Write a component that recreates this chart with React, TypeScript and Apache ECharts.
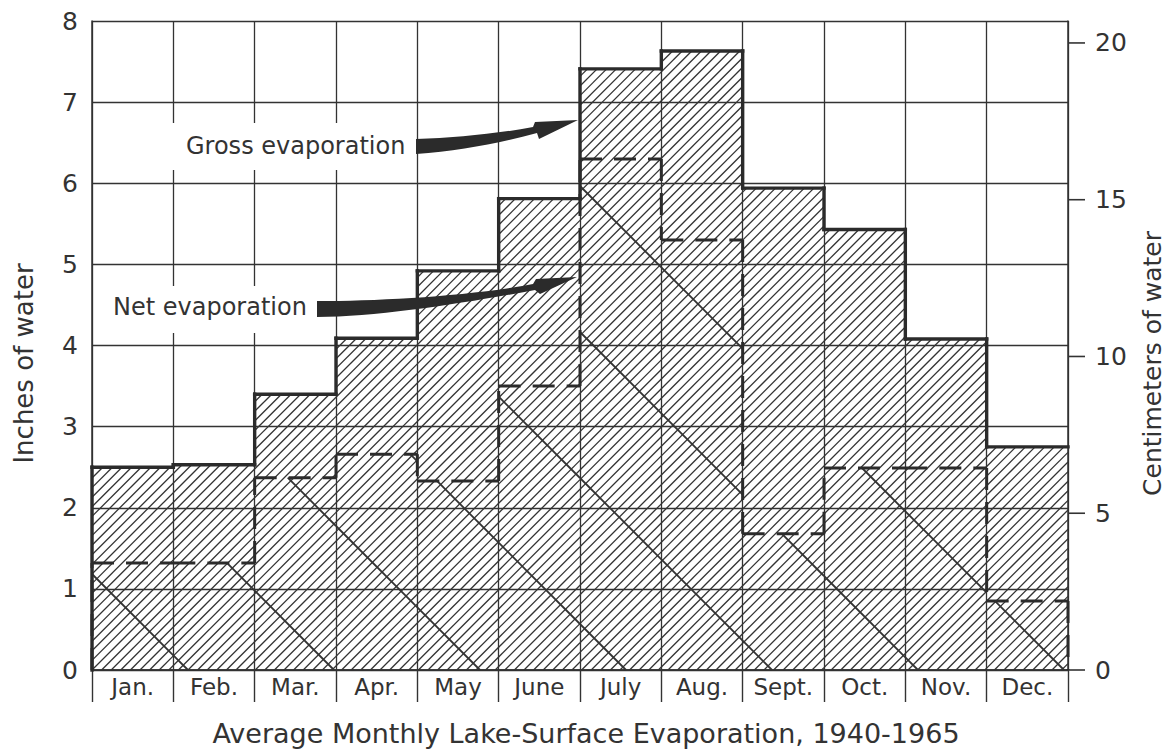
import React, { useEffect, useRef } from 'react';
import * as echarts from 'echarts';

const months = ['Jan.', 'Feb.', 'Mar.', 'Apr.', 'May', 'June', 'July', 'Aug.', 'Sept.', 'Oct.', 'Nov.', 'Dec.'];
const grossInches = [2.5, 2.53, 3.4, 4.09, 4.92, 5.81, 7.41, 7.63, 5.94, 5.43, 4.08, 2.75];
const netInches = [1.32, 1.32, 2.37, 2.66, 2.33, 3.5, 6.3, 5.3, 1.68, 2.49, 2.49, 0.85];
const cmTicks = [0, 5, 10, 15, 20];
const cmMax = 20.7;
const titleText = 'Average Monthly Lake-Surface Evaporation, 1940-1965';
const grossLabel = 'Gross evaporation';
const netLabel = 'Net evaporation';

const INK = '#333';
const FONT = 'DejaVu Sans';

const GROSS_ARROW = 'M416,139 C455,138 495,134 533,127 L535,122 L578,120 L539,139 L537,133 C500,143 460,151 416,154 Z';
const NET_ARROW = 'M317,301 C380,301 470,296 533,284 L536,279 L577,277 L540,294 L535,290 C470,302 380,317 317,317 Z';

let registered = false;
function registerShapes() {
  if (registered) return;
  registered = true;
  echarts.graphic.registerShape('grossArrow', echarts.graphic.extendPath(GROSS_ARROW, {}));
  echarts.graphic.registerShape('netArrow', echarts.graphic.extendPath(NET_ARROW, {}));
}

function renderItem(params: any, api: any) {
  const i = api.value(0);
  const g = api.value(1);
  const n = api.value(2);
  const pg = api.value(3);
  const pn = api.value(4);
  const isLast = api.value(5);
  const base = api.coord([i, 0]);
  const bw = api.size([1, 0])[0];
  const xL = base[0] - bw / 2;
  const xR = base[0] + bw / 2;
  const yB = base[1];
  const yG = api.coord([i, g])[1];
  const yN = api.coord([i, n])[1];
  const yPG = api.coord([i, pg])[1];
  const yPN = api.coord([i, pn])[1];
  const originX = api.coord([0, 0])[0] - bw / 2;
  const children: any[] = [];

  // fine "/" hatch over gross area
  const s = 9.6;
  const k0 = Math.ceil((xL + yG - originX - yB) / s);
  const k1 = Math.floor((xR - originX) / s);
  for (let k = k0; k <= k1; k++) {
    const c = originX + yB + k * s;
    const lo = Math.max(xL, c - yB);
    const hi = Math.min(xR, c - yG);
    if (hi - lo > 0.3) {
      children.push({
        type: 'line',
        shape: { x1: lo, y1: c - lo, x2: hi, y2: c - hi },
        style: { stroke: INK, lineWidth: 1.3 },
        silent: true,
      });
    }
  }

  // coarse "\" hatch over net area
  const S = 146;
  const off = 96;
  const q0 = Math.ceil((xL - originX - off) / S);
  const q1 = Math.floor((xR - yN + yB - originX - off) / S);
  for (let k = q0; k <= q1; k++) {
    const c = originX + off - yB + k * S;
    const lo = Math.max(xL, yN + c);
    const hi = Math.min(xR, yB + c);
    if (hi - lo > 0.3) {
      children.push({
        type: 'line',
        shape: { x1: lo, y1: lo - c, x2: hi, y2: hi - c },
        style: { stroke: INK, lineWidth: 1.8 },
        silent: true,
      });
    }
  }

  // net evaporation dashed outline
  const dash = { stroke: '#2b2b2b', lineWidth: 3, lineDash: [22, 12] };
  children.push({ type: 'line', shape: { x1: xL, y1: yN, x2: xR, y2: yN }, style: dash });
  children.push({ type: 'line', shape: { x1: xL, y1: yPN, x2: xL, y2: yN }, style: dash });
  if (isLast) {
    children.push({ type: 'line', shape: { x1: xR, y1: yN, x2: xR, y2: yB }, style: dash });
  }

  // gross evaporation solid outline
  const solid = { stroke: '#2b2b2b', lineWidth: 3.4, lineCap: 'square' };
  children.push({ type: 'line', shape: { x1: xL, y1: yG, x2: xR, y2: yG }, style: solid });
  children.push({ type: 'line', shape: { x1: xL, y1: yPG, x2: xL, y2: yG }, style: solid });

  return { type: 'group', children };
}

// centimetre scale: tick marks outward from the right edge, with their labels
function renderCmTick(params: any, api: any) {
  const v = api.value(1);
  const rightEdge = params.coordSys.x + params.coordSys.width;
  const y = api.coord([0, v])[1];
  return {
    type: 'group',
    children: [
      {
        type: 'line',
        shape: { x1: rightEdge, y1: y, x2: rightEdge + 17, y2: y },
        style: { stroke: INK, lineWidth: 1.6 },
      },
      {
        type: 'text',
        x: rightEdge + 27,
        y: y,
        style: {
          text: String(v),
          fontSize: 25,
          fontFamily: FONT,
          fill: INK,
          align: 'left',
          verticalAlign: 'middle',
        },
      },
    ],
  };
}

export default function App() {
  const ref = useRef<HTMLDivElement>(null);

  useEffect(() => {
    if (!ref.current) return;
    registerShapes();
    const chart = echarts.init(ref.current, null, { renderer: 'svg' });
    const data = months.map((m, i) => [
      i,
      grossInches[i],
      netInches[i],
      i === 0 ? 0 : grossInches[i - 1],
      i === 0 ? 0 : netInches[i - 1],
      i === months.length - 1 ? 1 : 0,
    ]);
    const gridLine = { color: INK, width: 1.3 };
    chart.setOption({
      animation: false,
      backgroundColor: '#ffffff',
      textStyle: { fontFamily: FONT },
      title: {
        text: titleText,
        left: 'center',
        top: 720,
        padding: [0, 22, 0, 0],
        textStyle: { fontFamily: FONT, fontSize: 27, fontWeight: 'normal', color: INK },
      },
      grid: { left: 92, right: 104, top: 21, bottom: 81, containLabel: false, outerBoundsMode: 'none' },
      xAxis: [
        {
          type: 'category',
          data: months,
          boundaryGap: true,
          axisLine: { show: true, lineStyle: { color: INK, width: 1.5 } },
          axisTick: { show: true, length: 32, interval: 0, lineStyle: { color: INK, width: 1.4 } },
          axisLabel: { interval: 0, margin: 5, fontSize: 23, color: INK, fontFamily: FONT },
          splitLine: { show: true, interval: 0, lineStyle: gridLine },
        },
        {
          type: 'category',
          data: months,
          position: 'bottom',
          offset: 32,
          axisLine: { show: true, lineStyle: { color: INK, width: 1.5 } },
          axisTick: { show: false },
          axisLabel: { show: false },
          splitLine: { show: false },
        },
      ],
      yAxis: [
        {
          type: 'value',
          min: 0,
          max: 8,
          interval: 1,
          name: 'Inches of water',
          nameLocation: 'middle',
          nameRotate: 90,
          nameGap: 55,
          nameMoveOverlap: false,
          nameTextStyle: { fontSize: 26, color: INK, fontFamily: FONT, padding: [0, 36, 0, 0] },
          axisLine: { show: true, lineStyle: { color: INK, width: 1.5 } },
          axisTick: { show: false },
          axisLabel: { fontSize: 25, color: INK, align: 'center', margin: 22, fontFamily: FONT },
          splitLine: { show: true, lineStyle: gridLine },
        },
        {
          type: 'value',
          position: 'right',
          min: 0,
          max: cmMax,
          name: 'Centimeters of water',
          nameLocation: 'middle',
          nameRotate: 90,
          nameGap: 72,
          nameMoveOverlap: false,
          nameTextStyle: { fontSize: 25, color: INK, fontFamily: FONT, padding: [0, 36, 0, 0] },
          axisLine: { show: true, lineStyle: { color: INK, width: 1.5 } },
          axisTick: { show: false },
          axisLabel: { show: false },
          splitLine: { show: false },
        },
      ],
      series: [
        {
          type: 'custom',
          name: 'Evaporation',
          xAxisIndex: 0,
          yAxisIndex: 0,
          renderItem,
          encode: { x: 0, y: 1 },
          data,
          clip: false,
          z: 3,
        },
        {
          type: 'custom',
          name: 'Centimeters',
          xAxisIndex: 0,
          yAxisIndex: 1,
          renderItem: renderCmTick,
          encode: { x: 0, y: 1 },
          data: cmTicks.map((v) => [0, v]),
          clip: false,
          silent: true,
          z: 3,
        },
      ],
      graphic: [
        { type: 'rect', z: 100, shape: { x: 160, y: 123, width: 256, height: 47 }, style: { fill: '#fff' } },
        { type: 'rect', z: 100, shape: { x: 100, y: 286, width: 217, height: 47 }, style: { fill: '#fff' } },
        {
          type: 'text', z: 101, x: 186, y: 146,
          style: { text: grossLabel, fontSize: 24, fontFamily: FONT, fill: INK, verticalAlign: 'middle', align: 'left' },
        },
        {
          type: 'text', z: 101, x: 113, y: 307,
          style: { text: netLabel, fontSize: 24, fontFamily: FONT, fill: INK, verticalAlign: 'middle', align: 'left' },
        },
        { type: 'grossArrow', z: 102, x: 0, y: 0, style: { fill: '#2b2b2b' } },
        { type: 'netArrow', z: 102, x: 0, y: 0, style: { fill: '#2b2b2b' } },
      ],
    });
    return () => chart.dispose();
  }, []);

  return (
    <div
      ref={ref}
      style={{ position: 'fixed', left: 0, top: 0, width: 1172, height: 751, background: '#fff' }}
    />
  );
}
